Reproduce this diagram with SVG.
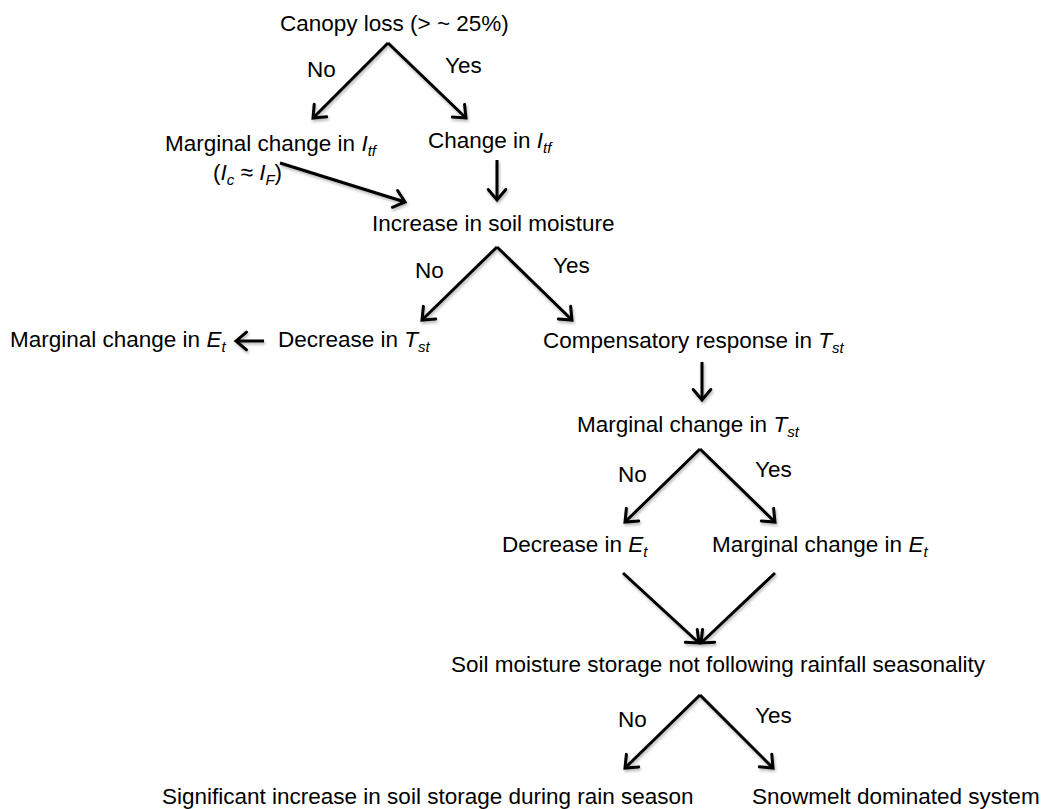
<svg xmlns="http://www.w3.org/2000/svg" width="1048" height="809" viewBox="0 0 1048 809">
  <style>
    text { font-family: "Liberation Sans", Arial, Helvetica, sans-serif; font-size: 22.5px; fill: #000; }
    .it { font-style: italic; }
    .sub { font-style: italic; font-size: 15px; }
    .arrow { stroke: #000; stroke-width: 3; fill: none; marker-end: url(#head); }
  </style>
  <defs>
    <marker id="head" viewBox="-14 -11 17 22" refX="0" refY="0" markerWidth="17" markerHeight="22" markerUnits="userSpaceOnUse" orient="auto">
      <path d="M -10.5 -8.8 L 0 0 L -10.5 8.8" fill="none" stroke="#000" stroke-width="3" stroke-linejoin="miter" stroke-linecap="round"/>
    </marker>
    <filter id="shadow" x="-10%" y="-10%" width="130%" height="130%">
      <feDropShadow dx="1" dy="2" stdDeviation="1.4" flood-color="#000" flood-opacity="0.3"/>
    </filter>
  </defs>
  <rect width="1048" height="809" fill="#fff"/>

  <!-- connectors -->
  <g id="connectors" filter="url(#shadow)">
    <!-- canopy loss fork -->
    <polyline class="arrow" points="388,43 313,118"/>
    <polyline class="arrow" points="388,43 466,118"/>
    <!-- into soil moisture -->
    <line class="arrow" x1="280" y1="163" x2="405" y2="202"/>
    <line class="arrow" x1="497" y1="160" x2="497" y2="200"/>
    <!-- soil moisture fork -->
    <line class="arrow" x1="497" y1="247" x2="422" y2="320"/>
    <line class="arrow" x1="497" y1="247" x2="572" y2="320"/>
    <!-- decrease in Tst to marginal change in Et -->
    <line class="arrow" x1="264" y1="341" x2="236" y2="341"/>
    <!-- compensatory response down -->
    <line class="arrow" x1="702" y1="362" x2="702" y2="400"/>
    <!-- marginal change in Tst fork -->
    <line class="arrow" x1="700" y1="449" x2="625" y2="522"/>
    <line class="arrow" x1="700" y1="449" x2="775" y2="522"/>
    <!-- converge on soil moisture storage -->
    <line class="arrow" x1="623" y1="573" x2="699" y2="643"/>
    <line class="arrow" x1="775" y1="573" x2="701" y2="643"/>
    <!-- storage fork -->
    <line class="arrow" x1="700" y1="695" x2="625" y2="768"/>
    <line class="arrow" x1="700" y1="695" x2="773" y2="768"/>
  </g>

  <!-- branch labels -->
  <g id="labels">
    <text x="307" y="77">No</text>
    <text x="445" y="73">Yes</text>
    <text x="415" y="278">No</text>
    <text x="553" y="273">Yes</text>
    <text x="618" y="482">No</text>
    <text x="755" y="477">Yes</text>
    <text x="618" y="727">No</text>
    <text x="755" y="723">Yes</text>
  </g>

  <g id="canopy-loss">
    <text x="280" y="31">Canopy loss (&gt; ~ 25%)</text>
  </g>

  <g id="marginal-itf">
    <text x="165" y="151">Marginal change in <tspan class="it">I</tspan><tspan class="sub" dy="5">tf</tspan></text>
    <text x="213" y="180">(<tspan class="it">I</tspan><tspan class="sub" dy="5">c</tspan><tspan dy="-5"> ≈ </tspan><tspan class="it">I</tspan><tspan class="sub" dy="5">F</tspan><tspan dy="-5">)</tspan></text>
  </g>

  <g id="change-itf">
    <text x="428" y="148">Change in <tspan class="it">I</tspan><tspan class="sub" dy="5">tf</tspan></text>
  </g>

  <g id="soil-moisture">
    <text x="372" y="231">Increase in soil moisture</text>
  </g>

  <g id="marginal-et-left">
    <text x="10" y="347">Marginal change in <tspan class="it">E</tspan><tspan class="sub" dy="5">t</tspan></text>
  </g>

  <g id="decrease-tst">
    <text x="278" y="347">Decrease in <tspan class="it">T</tspan><tspan class="sub" dy="5">st</tspan></text>
  </g>

  <g id="compensatory-tst">
    <text x="543" y="348">Compensatory response in <tspan class="it">T</tspan><tspan class="sub" dy="5">st</tspan></text>
  </g>

  <g id="marginal-tst">
    <text x="577" y="432">Marginal change in <tspan class="it">T</tspan><tspan class="sub" dy="5">st</tspan></text>
  </g>

  <g id="decrease-et">
    <text x="502" y="552">Decrease in <tspan class="it">E</tspan><tspan class="sub" dy="5">t</tspan></text>
  </g>

  <g id="marginal-et-right">
    <text x="712" y="552">Marginal change in <tspan class="it">E</tspan><tspan class="sub" dy="5">t</tspan></text>
  </g>

  <g id="storage-seasonality">
    <text x="451" y="672">Soil moisture storage not following rainfall seasonality</text>
  </g>

  <g id="rain-season">
    <text x="162" y="804">Significant increase in soil storage during rain season</text>
  </g>

  <g id="snowmelt">
    <text x="752" y="804">Snowmelt dominated system</text>
  </g>
</svg>
